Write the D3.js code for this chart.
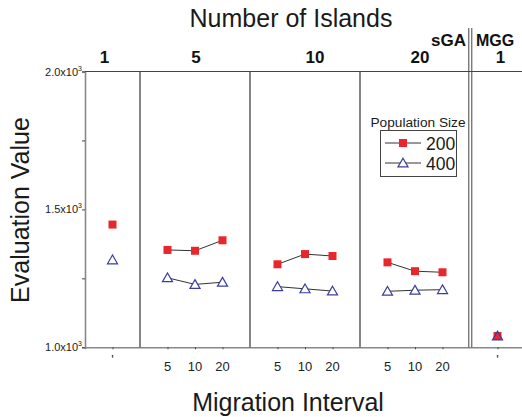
<!DOCTYPE html>
<html>
<head>
<meta charset="utf-8">
<script src="https://cdn.jsdelivr.net/npm/d3@7"></script>
<style>
  body { margin: 0; background: #fff; }
  svg { display: block; font-family: "Liberation Sans", Arial, sans-serif; }
</style>
</head>
<body>
<div class="container"></div>
<script>
// header groups (number of islands), last one is MGG
const islands = ['1', '5', '10', '20', '1']
const groupStart = [0, 2, 6, 10, 14]
const groupSize = [2, 4, 4, 4, 2]
const labelNudge = [-8, 1, 10, 5, 3]
const methods = ['sGA', 'MGG']

// one entry per point: group index and migration interval label
const pointGroup = [0, 1, 1, 1, 2, 2, 2, 3, 3, 3, 4]
const intervals = ["'", '5', '10', '20', '5', '10', '20', '5', '10', '20', "'"]
const pop200 = [1445, 1353, 1350, 1388, 1301, 1338, 1331, 1308, 1276, 1272, 1041]
const pop400 = [1317, 1252, 1228, 1236, 1220, 1212, 1204, 1203, 1207, 1209, 1041]

const yTicks = [1000, 1250, 1500, 1750, 2000]
const yLabels = [1000, 1500, 2000]

const w = 522
const h = 417
const plotLeft = 85
const plotTop = 71.5
const plotBottom = 347.3

const svg = d3.select('.container')
  .append('svg')
  .attr('width', w)
  .attr('height', h)

const x = d3.scaleLinear().domain([0, 16]).range([plotLeft, 525])
const y = d3.scaleLinear().domain([1000, 2000]).range([plotBottom, plotTop])

// slot index for each point
const slots = pointGroup.map((g, i) => {
  const firstIdx = pointGroup.indexOf(g)
  return groupStart[g] + 1 + (i - firstIdx)
})

// titles
svg.append('text')
  .text('Number of Islands')
  .attr('x', 291)
  .attr('y', 27)
  .attr('text-anchor', 'middle')
  .attr('font-size', 25)
  .attr('fill', '#1a1a1a')

svg.append('text')
  .text('Migration Interval')
  .attr('x', 288)
  .attr('y', 411)
  .attr('text-anchor', 'middle')
  .attr('font-size', 25)
  .attr('fill', '#1a1a1a')

svg.append('text')
  .text('Evaluation Value')
  .attr('transform', 'translate(29, 210) rotate(-90)')
  .attr('text-anchor', 'middle')
  .attr('font-size', 25)
  .attr('fill', '#1a1a1a')

// group labels
svg.selectAll('.grp')
  .data(islands)
  .enter()
  .append('text')
  .attr('class', 'grp')
  .text(d => d)
  .attr('x', (d, i) => x(groupStart[i] + groupSize[i] / 2) + labelNudge[i])
  .attr('y', 63)
  .attr('text-anchor', 'middle')
  .attr('font-size', 17)
  .attr('font-weight', 'bold')
  .attr('fill', '#111')

svg.append('text')
  .text(methods[0])
  .attr('x', x(14) - 4)
  .attr('y', 46)
  .attr('text-anchor', 'end')
  .attr('font-size', 17)
  .attr('font-weight', 'bold')
  .attr('fill', '#111')

svg.append('text')
  .text(methods[1])
  .attr('x', x(14) + 6)
  .attr('y', 46)
  .attr('font-size', 16)
  .attr('font-weight', 'bold')
  .attr('fill', '#111')

// y axis
const yAxis = d3.axisLeft(y)
  .tickValues(yTicks)
  .tickSize(3)
  .tickFormat('')

const gy = svg.append('g')
  .attr('transform', `translate(${plotLeft}, 0)`)
  .call(yAxis)
gy.select('.domain').attr('stroke', '#888').attr('stroke-width', 1.6)
gy.selectAll('.tick line').attr('stroke', '#444')

const yl = svg.selectAll('.ylab')
  .data(yLabels)
  .enter()
  .append('text')
  .attr('class', 'ylab')
  .attr('x', plotLeft - 3)
  .attr('y', d => y(d) + 4)
  .attr('text-anchor', 'end')
  .attr('font-size', 11)
  .attr('fill', '#222')
yl.append('tspan').text(d => (d / 1000).toFixed(1) + 'x10')
yl.append('tspan').text('3').attr('font-size', 7).attr('dy', -5)

// x axis
const xAxis = d3.axisBottom(x)
  .tickValues(slots)
  .tickSize(2)
  .tickFormat('')

const gx = svg.append('g')
  .attr('transform', `translate(0, ${plotBottom})`)
  .call(xAxis)
gx.select('.domain').attr('stroke', '#888').attr('stroke-width', 1.6)
gx.selectAll('.tick line').attr('stroke', '#444')

svg.selectAll('.xlab')
  .data(intervals)
  .enter()
  .append('text')
  .attr('class', 'xlab')
  .text(d => d)
  .attr('x', (d, i) => x(slots[i]))
  .attr('y', (d) => d === "'" ? 364 : 371)
  .attr('text-anchor', 'middle')
  .attr('font-size', 13)
  .attr('fill', '#222')

// top frame line
svg.append('line')
  .attr('x1', x(0)).attr('x2', x(16))
  .attr('y1', y(2000)).attr('y2', y(2000))
  .attr('stroke', '#444')
  .attr('stroke-width', 1.2)

// dividers
svg.selectAll('.div')
  .data(groupStart.slice(1, 4))
  .enter()
  .append('line')
  .attr('x1', d => x(d)).attr('x2', d => x(d))
  .attr('y1', y(2000)).attr('y2', y(1000))
  .attr('stroke', '#444')
  .attr('stroke-width', 1.3)

// double line before MGG
;[-1.2, 1.8].forEach(off => {
  svg.append('line')
    .attr('x1', x(14) + off).attr('x2', x(14) + off)
    .attr('y1', 28).attr('y2', y(1000))
    .attr('stroke', '#444')
    .attr('stroke-width', 1)
})

// series lines within groups
const line = d3.line()
  .x(d => x(d.s))
  .y(d => y(d.v))

function drawSeries(values, cls) {
  d3.range(islands.length).forEach(g => {
    const pts = values
      .map((v, i) => ({ v, s: slots[i], g: pointGroup[i] }))
      .filter(d => d.g === g)
    if (pts.length > 1) {
      svg.append('path')
        .datum(pts)
        .attr('class', cls)
        .attr('d', line)
        .attr('fill', 'none')
        .attr('stroke', '#333')
        .attr('stroke-width', 1)
    }
  })
}
drawSeries(pop200, 'l200')
drawSeries(pop400, 'l400')

const tri = d3.symbol().type(d3.symbolTriangle).size(44)

svg.selectAll('.sq')
  .data(pop200)
  .enter()
  .append('rect')
  .attr('class', 'sq')
  .attr('x', (d, i) => x(slots[i]) - 4)
  .attr('y', d => y(d) - 4)
  .attr('width', 8)
  .attr('height', 8)
  .attr('fill', '#e8272c')

svg.selectAll('.tri')
  .data(pop400)
  .enter()
  .append('path')
  .attr('class', 'tri')
  .attr('d', tri)
  .attr('transform', (d, i) => `translate(${x(slots[i])}, ${y(d) + 1})`)
  .attr('fill', 'white')
  .attr('fill-opacity', (d, i) => pointGroup[i] === 4 ? 0 : 1)
  .attr('stroke', '#3b3ca3')
  .attr('stroke-width', 1.2)

// legend
const lg = svg.append('g')

lg.append('text')
  .text('Population Size')
  .attr('x', 418)
  .attr('y', 127)
  .attr('text-anchor', 'middle')
  .attr('font-size', 13.7)
  .attr('fill', '#1a1a1a')

lg.append('rect')
  .attr('x', 380.5).attr('y', 130.5)
  .attr('width', 76).attr('height', 46)
  .attr('fill', 'white')
  .attr('stroke', '#444')
  .attr('stroke-width', 1)

const legendItems = [{ label: '200', ly: 143 }, { label: '400', ly: 163 }]
legendItems.forEach((it, i) => {
  lg.append('line')
    .attr('x1', 385).attr('x2', 421)
    .attr('y1', it.ly).attr('y2', it.ly)
    .attr('stroke', '#333')
  if (i === 0) {
    lg.append('rect')
      .attr('x', 399).attr('y', it.ly - 4)
      .attr('width', 8).attr('height', 8)
      .attr('fill', '#e8272c')
  } else {
    lg.append('path')
      .attr('d', tri)
      .attr('transform', `translate(403, ${it.ly + 1})`)
      .attr('fill', 'white')
      .attr('stroke', '#3b3ca3')
      .attr('stroke-width', 1.2)
  }
  lg.append('text')
    .text(it.label)
    .attr('x', 426)
    .attr('y', it.ly + 6.5)
    .attr('font-size', 17.5)
    .attr('fill', '#1a1a1a')
})
</script>
</body>
</html>
